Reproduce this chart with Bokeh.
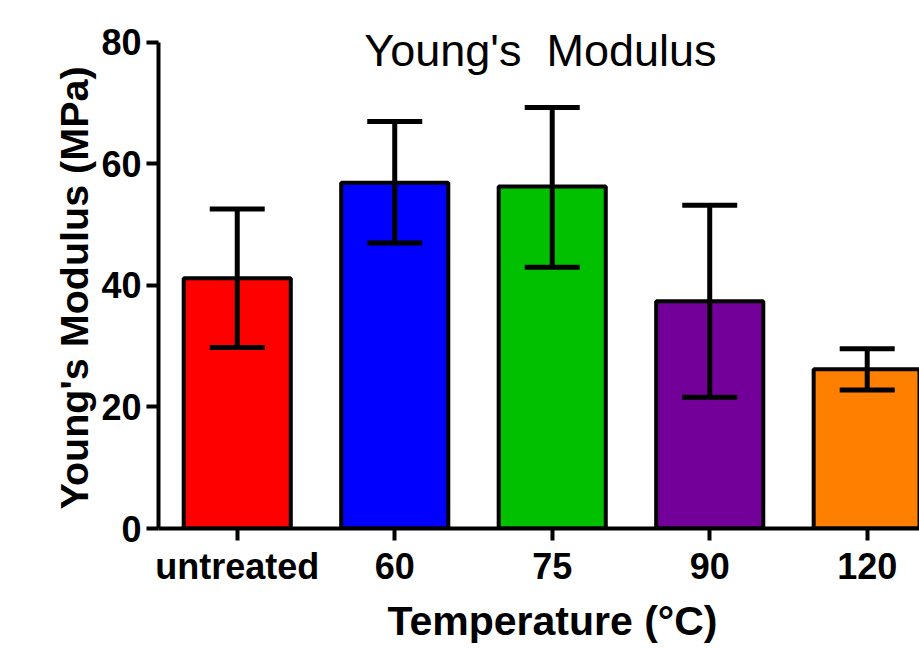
from bokeh.plotting import figure
from bokeh.models import ColumnDataSource, Whisker, TeeHead, FixedTicker, Label, Range1d, Title
from bokeh.embed import file_html
from bokeh.resources import INLINE

categories = ["untreated", "60", "75", "90", "120"]
modulus = [41.2, 56.9, 56.3, 37.4, 26.2]
err_upper = [52.6, 67.0, 69.3, 53.2, 29.6]
err_lower = [29.8, 47.0, 43.0, 21.6, 22.8]
colors = ["#FF0000", "#0000FF", "#00C000", "#730099", "#FF8000"]
y_ticks = [0, 20, 40, 60, 80]

xs = [i + 0.5 for i in range(len(categories))]
src = ColumnDataSource(dict(x=xs, top=modulus, upper=err_upper, lower=err_lower, color=colors))

FONT = "Liberation Sans"

p = figure(width=919, height=649, output_backend="svg", toolbar_location=None,
           x_range=Range1d(0, 4.832), y_range=Range1d(0, 83.62),
           min_border_left=158, min_border_right=0, min_border_top=20, min_border_bottom=121)
p.outline_line_color = None
p.xgrid.visible = False
p.ygrid.visible = False

p.vbar(x="x", top="top", width=0.68, bottom=0, source=src, fill_color="color",
       line_color="black", line_width=4)

w = Whisker(base="x", upper="upper", lower="lower", source=src, line_width=5, line_color="black",
            upper_head=TeeHead(size=55, line_width=5, line_color="black"),
            lower_head=TeeHead(size=55, line_width=5, line_color="black"), level="overlay")
p.add_layout(w)

for ax in (p.xaxis[0], p.yaxis[0]):
    ax.axis_line_width = 4
    ax.axis_line_color = "black"
    ax.major_tick_line_width = 4
    ax.major_tick_line_color = "black"
    ax.major_tick_out = 12
    ax.major_tick_in = 0
    ax.minor_tick_line_color = None
    ax.major_label_text_font = FONT
    ax.major_label_text_font_style = "bold"
    ax.major_label_text_font_size = "36px"
    ax.major_label_text_color = "black"

p.xaxis.ticker = FixedTicker(ticks=xs)
p.xaxis.major_label_overrides = {x: c for x, c in zip(xs, categories)}
p.xaxis.major_label_standoff = 5

p.yaxis.ticker = FixedTicker(ticks=y_ticks)
p.yaxis.bounds = (0, 80)
p.yaxis.major_label_standoff = 5

ylab = Title(text="Young's Modulus (MPa)", align="left", offset=19, text_font=FONT,
             text_font_style="bold", text_font_size="39.5px", text_color="black", standoff=6)
p.add_layout(ylab, "left")

title = Label(x=len(categories) / 2 - 0.075, y=78.7, text="Young's \u00a0Modulus", text_align="center",
              text_baseline="alphabetic", text_font=FONT, text_font_size="45px", text_color="black")
p.add_layout(title)

xlab = Title(text="Temperature (\u00b0C)", align="left", offset=229, text_font=FONT,
             text_font_style="bold", text_font_size="41px", text_color="black", standoff=12)
p.add_layout(xlab, "below")

open("out.html", "w").write(file_html(p, INLINE))
